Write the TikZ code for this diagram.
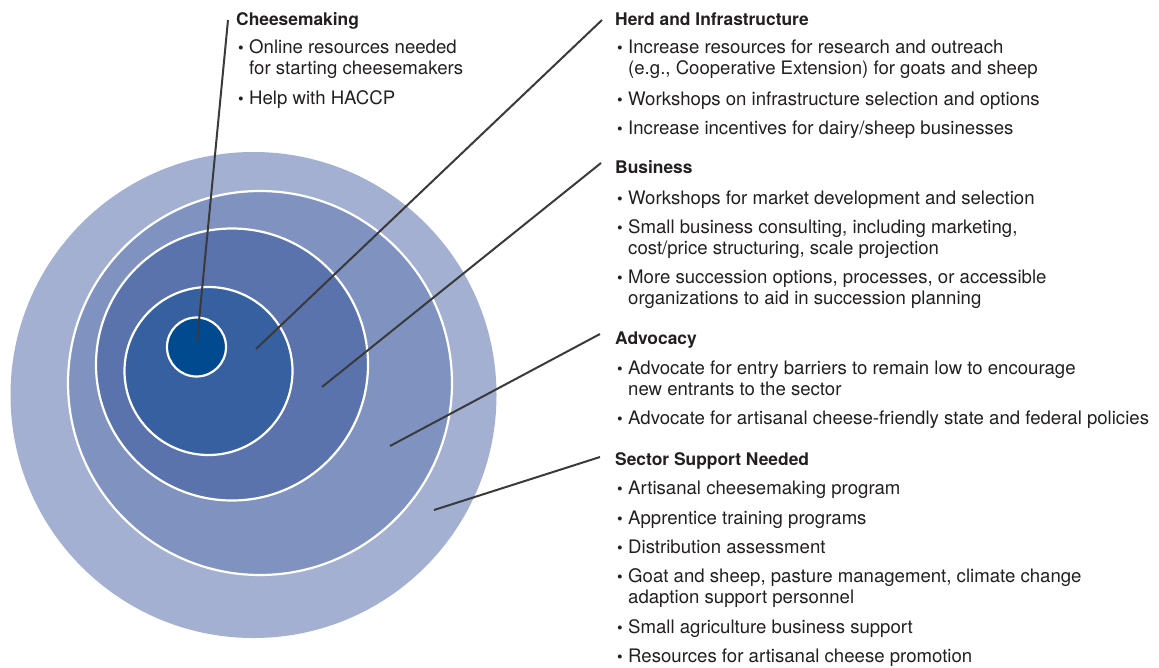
\documentclass[tikz,border=0pt]{standalone}
\usepackage{fontspec}
\setmainfont{TeX Gyre Heros}
\begin{document}
\begin{tikzpicture}[x=1pt,y=-1pt,
  ringA/.style={fill=ringa},
  ringB/.style={fill=ringb,draw=white,line width=2.2pt},
  ringC/.style={fill=ringc,draw=white,line width=2.2pt},
  ringD/.style={fill=ringd,draw=white,line width=2.2pt},
  ringE/.style={fill=ringe,draw=white,line width=2.2pt},
  leader/.style={draw=leadgray,line width=2pt},
  head/.style={anchor=base west,inner sep=0pt,text=textgray,font=\fontsize{17.4pt}{21.5pt}\selectfont\bfseries},
  bul/.style={anchor=base west,inner sep=0pt,text=textgray,font=\fontsize{16pt}{21.5pt}\selectfont},
  txt/.style={anchor=base west,inner sep=0pt,text=textgray,font=\fontsize{18.6pt}{21.5pt}\selectfont},
]
\definecolor{ringa}{HTML}{A4B0D2}
\definecolor{ringb}{HTML}{8093C0}
\definecolor{ringc}{HTML}{5A73AD}
\definecolor{ringd}{HTML}{3660A0}
\definecolor{ringe}{HTML}{024A8F}
\definecolor{leadgray}{HTML}{3A3A3C}
\definecolor{textgray}{HTML}{231F20}
\newcommand\bulletitem[4]{%
  \node[bul] (#1b) at (#2,#3) {\textbullet};
  \node[txt] (#1) at (#2+11,#3) {\parbox[t]{540pt}{#4}};
}
\useasboundingbox (0,0) rectangle (1159,667);

% nested rings
\fill[ringA] (253.5,395) circle (243pt);
\filldraw[ringB] (260,383) circle (192pt);
\filldraw[ringC] (232,364.5) circle (136pt);
\filldraw[ringD] (208.5,371) circle (84pt);
\filldraw[ringE] (196.5,347) circle (29.5pt);

% leader end points
\coordinate (s1) at (197,342);
\coordinate (e1) at (228,20);
\coordinate (s2) at (256,349);
\coordinate (e2) at (602,20);
\coordinate (s3) at (322,387);
\coordinate (e3) at (601,163);
\coordinate (s4) at (390,446);
\coordinate (e4) at (600,334);
\coordinate (s5) at (434,510);
\coordinate (e5) at (600,457);
\draw[leader] (s1) -- (e1);
\draw[leader] (s2) -- (e2);
\draw[leader] (s3) -- (e3);
\draw[leader] (s4) -- (e4);
\draw[leader] (s5) -- (e5);

% Cheesemaking
\node[head] (h1) at (236,25) {Cheesemaking};
\bulletitem{a1}{238}{53}{Online resources needed\\for starting cheesemakers}
\bulletitem{a2}{238}{104}{Help with HACCP}

% Herd and Infrastructure
\node[head] (h2) at (615,25) {Herd and Infrastructure};
\bulletitem{b1}{617}{53}{Increase resources for research and outreach\\(e.g., Cooperative Extension) for goats and sheep}
\bulletitem{b2}{617}{105}{Workshops on infrastructure selection and options}
\bulletitem{b3}{617}{134}{Increase incentives for dairy/sheep businesses}

% Business
\node[head] (h3) at (615,173) {Business};
\bulletitem{c1}{617}{204}{Workshops for market development and selection}
\bulletitem{c2}{617}{233}{Small business consulting, including marketing,\\cost/price structuring, scale projection}
\bulletitem{c3}{617}{283}{More succession options, processes, or accessible\\organizations to aid in succession planning}

% Advocacy
\node[head] (h4) at (615,344) {Advocacy};
\bulletitem{d1}{617}{374}{Advocate for entry barriers to remain low to encourage\\new entrants to the sector}
\bulletitem{d2}{617}{424}{Advocate for artisanal cheese-friendly state and federal policies}

% Sector Support Needed
\node[head] (h5) at (615,465) {Sector Support Needed};
\bulletitem{f1}{617}{494}{Artisanal cheesemaking program}
\bulletitem{f2}{617}{524}{Apprentice training programs}
\bulletitem{f3}{617}{553}{Distribution assessment}
\bulletitem{f4}{617}{582}{Goat and sheep, pasture management, climate change\\adaption support personnel}
\bulletitem{f5}{617}{633}{Small agriculture business support}
\bulletitem{f6}{617}{662}{Resources for artisanal cheese promotion}
\end{tikzpicture}
\end{document}
